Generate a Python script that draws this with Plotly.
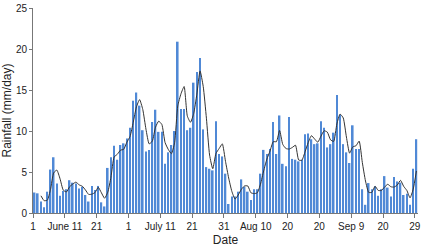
import plotly.graph_objects as go
import pandas as pd

# Daily rainfall (mm/day), 1 June - 29 September
rain_june = [2.5, 2.4, 1.4, 0.7, 2.6, 5.3, 6.8, 3.6, 2.1, 2.7, 2.9, 4.0, 3.7, 3.6, 3.0,
             3.2, 2.2, 1.4, 3.3, 2.8, 3.3, 1.3, 0.8, 5.5, 6.8, 8.2, 6.5, 8.3, 8.5, 9.1]
rain_july = [10.4, 13.7, 14.7, 13.1, 10.1, 7.5, 7.7, 11.1, 12.6, 9.9, 9.9, 6.0, 7.4, 8.3, 10.0,
             20.9, 12.7, 12.7, 10.1, 10.4, 15.9, 17.2, 18.9, 10.2, 5.6, 5.4, 5.2, 11.2, 7.2, 6.9, 4.8]
rain_aug = [1.1, 2.0, 2.0, 2.6, 4.1, 3.2, 2.6, 1.6, 2.9, 2.9, 4.8, 7.7, 7.2, 7.8, 11.1,
            7.2, 11.9, 6.0, 5.7, 11.7, 6.6, 6.5, 6.3, 6.5, 9.6, 9.7, 9.0, 8.4, 8.5, 11.2, 10.4]
rain_sep = [8.0, 8.4, 9.8, 14.4, 12.0, 8.4, 7.4, 6.1, 10.7, 7.8, 7.8, 2.9, 1.0, 3.65, 2.9,
            3.25, 2.1, 2.9, 4.5, 3.1, 2.0, 4.4, 3.85, 3.7, 2.2, 2.35, 1.0, 5.4, 9.0]

tick_labels = ["1", "June 11", "21", "1", "July 11", "21", "31",
               "Aug 10", "20", "20", "Sep 9", "20", "29"]

rain = rain_june + rain_july + rain_aug + rain_sep
day = list(range(len(rain)))
# 3-day moving-average trendline of the bars
trend = pd.Series(rain).rolling(3).mean().tolist()

fig = go.Figure()
fig.add_trace(go.Bar(x=day, y=rain, marker=dict(color="#5089d6", line=dict(width=0)),
                     showlegend=False))
fig.add_trace(go.Scatter(x=day, y=trend, mode="lines",
                         line=dict(color="#333333", width=1, shape="spline", smoothing=0.5),
                         showlegend=False, connectgaps=False))

tickvals = [i * 10 - 0.5 for i in range(len(tick_labels))]

fig.update_layout(
    width=424, height=247,
    margin=dict(l=31, r=3, t=6, b=33),
    paper_bgcolor="white", plot_bgcolor="white",
    bargap=0.5,
    font=dict(family="Liberation Sans, Arial, sans-serif", size=10, color="#222"),
    xaxis=dict(range=[-0.5, 120.5], tickmode="array", tickvals=tickvals, ticktext=tick_labels,
               showgrid=False, zeroline=False, showline=True, linecolor="#777", linewidth=1,
               ticks="outside", ticklen=4, tickcolor="#777",
               title=dict(text="Date", standoff=4), tickfont=dict(size=10)),
    yaxis=dict(range=[0, 25.01], tickvals=[0, 5, 10, 15, 20, 25],
               showgrid=False, zeroline=False, showline=True, linecolor="#777", linewidth=1,
               ticks="outside", ticklen=3, tickcolor="#777",
               title=dict(text="Rainfall (mm/day)", standoff=4), tickfont=dict(size=10)),
)

fig.write_html("out.html", config={"displayModeBar": False},
               post_script="document.body.style.margin='0';document.body.style.overflow='hidden';")
